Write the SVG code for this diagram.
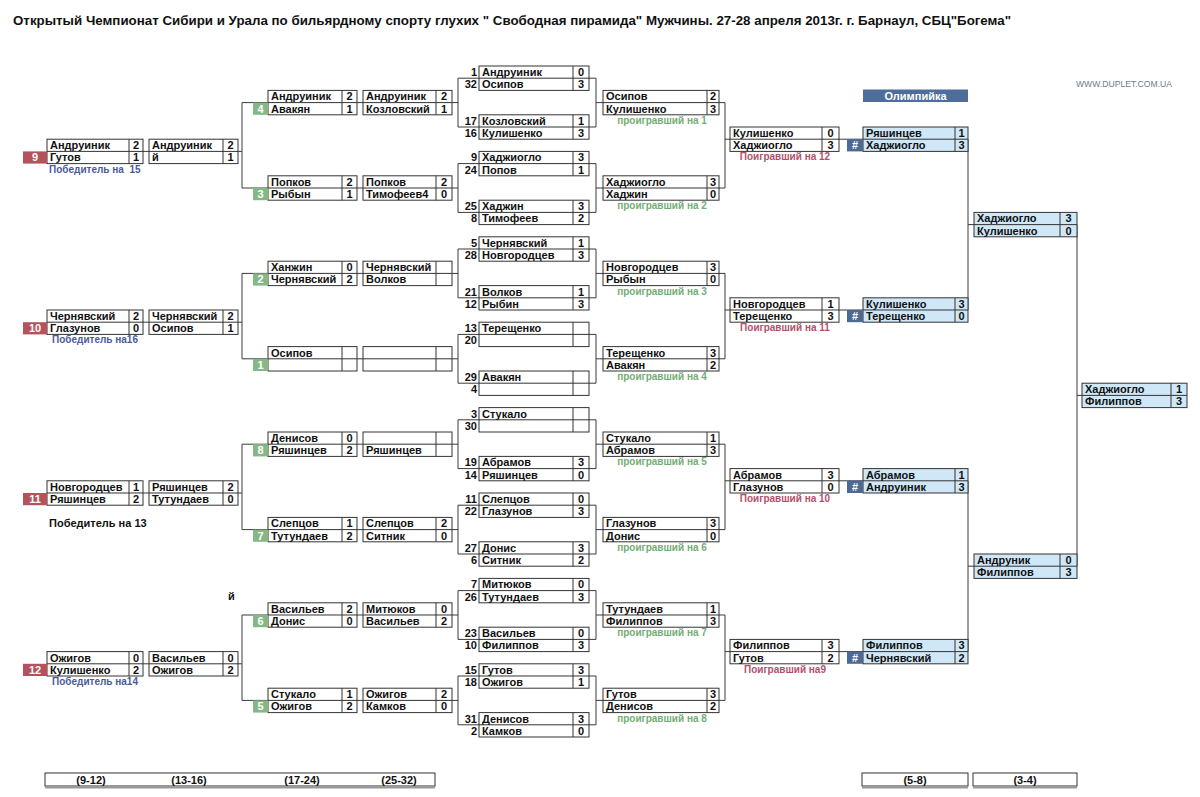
<svg xmlns="http://www.w3.org/2000/svg" width="1200" height="797" viewBox="0 0 1200 797">
<style>
text{font-family:"Liberation Sans",Arial,sans-serif;font-weight:bold;font-size:11px;fill:#111}
.s{text-anchor:middle}
.sd{text-anchor:end}
.w{fill:#fff;text-anchor:middle}
.lg{fill:#74ad74;font-size:10px;text-anchor:middle}
.lr{fill:#b2506c;font-size:10px;text-anchor:middle}
.lb{fill:#4b5a9b;font-size:10px}
.con{fill:none;stroke:#3a3a3a;stroke-width:1}
.red{fill:#b5535d}
.grn{fill:#86b886}
.hash{fill:#4d6a94}
.bar{fill:#fff;stroke:#333;stroke-width:1}
</style>
<defs>
<g id="bA" fill="#fff" stroke="#333" stroke-width="1"><rect width="96" height="24.4"/><path d="M0 12.2H96M82 0V24.4" fill="none"/></g>
<g id="bB" fill="#fff" stroke="#333" stroke-width="1"><rect width="89" height="24.4"/><path d="M0 12.2H89M74 0V24.4" fill="none"/></g>
<g id="bD" fill="#fff" stroke="#333" stroke-width="1"><rect width="89" height="24.4"/><path d="M0 12.2H89M73 0V24.4" fill="none"/></g>
<g id="bE" fill="#fff" stroke="#333" stroke-width="1"><rect width="110" height="24.4"/><path d="M0 12.2H110M94 0V24.4" fill="none"/></g>
<g id="bF" fill="#fff" stroke="#333" stroke-width="1"><rect width="116" height="24.4"/><path d="M0 12.2H116M104 0V24.4" fill="none"/></g>
<g id="bG" fill="#fff" stroke="#333" stroke-width="1"><rect width="109" height="24.4"/><path d="M0 12.2H109M92 0V24.4" fill="none"/></g>
<g id="bH" fill="#cfe7f7" stroke="#333" stroke-width="1"><rect width="105" height="24.4"/><path d="M0 12.2H105M92 0V24.4" fill="none"/></g>
<g id="bI" fill="#cfe7f7" stroke="#333" stroke-width="1"><rect width="103" height="24.4"/><path d="M0 12.2H103M86 0V24.4" fill="none"/></g>
<g id="bJ" fill="#cfe7f7" stroke="#333" stroke-width="1"><rect width="105" height="24.4"/><path d="M0 12.2H105M89 0V24.4" fill="none"/></g>
</defs>
<rect width="1200" height="797" fill="#fff"/>
<text x="13" y="25" font-size="13" textLength="998" lengthAdjust="spacingAndGlyphs" style="font-size:13px">Открытый Чемпионат Сибири и Урала по бильярдному спорту глухих " Свободная пирамида" Мужчины. 27-28 апреля 2013г. г. Барнаул, СБЦ"Богема"</text>
<text x="1076" y="87" textLength="96" lengthAdjust="spacingAndGlyphs" style="font-size:8.5px;font-weight:normal;fill:#6b7b8c">WWW.DUPLET.COM.UA</text>
<g id="olimp"><rect x="863" y="89.5" width="105" height="12.5" fill="#4f6d9a"/><text class="w" x="915.5" y="99.7">Олимпийка</text></g>

<g id="connectors" class="con">
<path d="M143 151.4H242M242 102.6V188M242 102.6H458M242 188H458M458 78.2V127M458 163.6V212.4M458 78.2H596M458 127H596M458 163.6H596M458 212.4H596M596 78.2V127M596 163.6V212.4M596 102.6H725M596 188H725M725 102.6V188M725 139.2H863"/>
<path d="M143 322.2H242M242 273.4V358.8M242 273.4H458M242 358.8H458M458 249V297.8M458 334.4V383.2M458 249H596M458 297.8H596M458 334.4H596M458 383.2H596M596 249V297.8M596 334.4V383.2M596 273.4H725M596 358.8H725M725 273.4V358.8M725 310H863"/>
<path d="M143 493H242M242 444.2V529.6M242 444.2H458M242 529.6H458M458 419.8V468.6M458 505.2V554M458 419.8H596M458 468.6H596M458 505.2H596M458 554H596M596 419.8V468.6M596 505.2V554M596 444.2H725M596 529.6H725M725 444.2V529.6M725 480.8H863"/>
<path d="M143 663.8H242M242 615V700.4M242 615H458M242 700.4H458M458 590.6V639.4M458 676V724.8M458 590.6H596M458 639.4H596M458 676H596M458 724.8H596M596 590.6V639.4M596 676V724.8M596 615H725M596 700.4H725M725 615V700.4M725 651.6H863"/>
<path d="M968 139.2V310M968 224.6H1077M968 480.8V651.6M968 566.2H1077M1077 224.6V566.2M1077 395.4H1082"/>
</g>

<!-- Block 0 -->
<g id="a9"><use href="#bA" x="47" y="139.2"/><rect class="red" x="23" y="151.4" width="24" height="12.2"/><text class="w" x="35" y="161.4">9</text>
<text x="50" y="149.2">Андруиник</text><text class="s" x="136" y="149.2">2</text><text x="50" y="161.4">Гутов</text><text class="s" x="136" y="161.4">1</text>
<text class="lb" x="49" y="172.6" xml:space="preserve">Победитель на  15</text></g>
<g id="b9"><use href="#bB" x="149" y="139.2"/><text x="152" y="149.2">Андруиник</text><text class="s" x="230.5" y="149.2">2</text><text x="152" y="161.4">й</text><text class="s" x="230.5" y="161.4">1</text></g>
<g id="c4"><use href="#bB" x="268" y="90.4"/><rect class="grn" x="253" y="102.6" width="15" height="12.2"/><text class="w" x="260.5" y="112.6">4</text>
<text x="271" y="100.4">Андруиник</text><text class="s" x="349.5" y="100.4">2</text><text x="271" y="112.6">Авакян</text><text class="s" x="349.5" y="112.6">1</text></g>
<g id="d4"><use href="#bD" x="363" y="90.4"/><text x="366" y="100.4">Андруиник</text><text class="s" x="444" y="100.4">2</text><text x="366" y="112.6">Козловский</text><text class="s" x="444" y="112.6">1</text></g>
<g id="c3"><use href="#bB" x="268" y="175.8"/><rect class="grn" x="253" y="188" width="15" height="12.2"/><text class="w" x="260.5" y="198">3</text>
<text x="271" y="185.8">Попков</text><text class="s" x="349.5" y="185.8">2</text><text x="271" y="198">Рыбын</text><text class="s" x="349.5" y="198">1</text></g>
<g id="d3"><use href="#bD" x="363" y="175.8"/><text x="366" y="185.8">Попков</text><text class="s" x="444" y="185.8">2</text><text x="366" y="198">Тимофеев4</text><text class="s" x="444" y="198">0</text></g>
<g id="e1"><use href="#bE" x="479" y="66"/><text class="sd" x="477" y="76">1</text><text x="482" y="76">Андруиник</text><text class="s" x="581" y="76">0</text><text class="sd" x="477" y="88.2">32</text><text x="482" y="88.2">Осипов</text><text class="s" x="581" y="88.2">3</text></g>
<g id="e2"><use href="#bE" x="479" y="114.8"/><text class="sd" x="477" y="124.8">17</text><text x="482" y="124.8">Козловский</text><text class="s" x="581" y="124.8">1</text><text class="sd" x="477" y="137">16</text><text x="482" y="137">Кулишенко</text><text class="s" x="581" y="137">3</text></g>
<g id="e3"><use href="#bE" x="479" y="151.4"/><text class="sd" x="477" y="161.4">9</text><text x="482" y="161.4">Хаджиогло</text><text class="s" x="581" y="161.4">3</text><text class="sd" x="477" y="173.6">24</text><text x="482" y="173.6">Попов</text><text class="s" x="581" y="173.6">1</text></g>
<g id="e4"><use href="#bE" x="479" y="200.2"/><text class="sd" x="477" y="210.2">25</text><text x="482" y="210.2">Хаджин</text><text class="s" x="581" y="210.2">3</text><text class="sd" x="477" y="222.4">8</text><text x="482" y="222.4">Тимофеев</text><text class="s" x="581" y="222.4">2</text></g>
<g id="f1"><use href="#bF" x="603" y="90.4"/><text x="606" y="100.4">Осипов</text><text class="s" x="713" y="100.4">2</text><text x="606" y="112.6">Кулишенко</text><text class="s" x="713" y="112.6">3</text><text class="lg" x="662" y="123.8">проигравший на 1</text></g>
<g id="f2"><use href="#bF" x="603" y="175.8"/><text x="606" y="185.8">Хаджиогло</text><text class="s" x="713" y="185.8">3</text><text x="606" y="198">Хаджин</text><text class="s" x="713" y="198">0</text><text class="lg" x="662" y="209.2">проигравший на 2</text></g>
<g id="g12"><use href="#bG" x="730" y="127"/><text x="733" y="137">Кулишенко</text><text class="s" x="830.5" y="137">0</text><text x="733" y="149.2">Хаджиогло</text><text class="s" x="830.5" y="149.2">3</text><text class="lr" x="785" y="160.4">Поигравший на 12</text></g>
<g id="h1"><use href="#bH" x="863" y="127"/><rect class="hash" x="847" y="139.2" width="16" height="12.2"/><text class="w" x="855" y="149.2">#</text><text x="866" y="137">Ряшинцев</text><text class="s" x="961.5" y="137">1</text><text x="866" y="149.2">Хаджиогло</text><text class="s" x="961.5" y="149.2">3</text></g>

<!-- Block 1 -->
<g id="a10"><use href="#bA" x="47" y="310"/><rect class="red" x="23" y="322.2" width="24" height="12.2"/><text class="w" x="35" y="332.2">10</text>
<text x="50" y="320">Чернявский</text><text class="s" x="136" y="320">2</text><text x="50" y="332.2">Глазунов</text><text class="s" x="136" y="332.2">0</text>
<text class="lb" x="52" y="343.4">Победитель на16</text></g>
<g id="b10"><use href="#bB" x="149" y="310"/><text x="152" y="320">Чернявский</text><text class="s" x="230.5" y="320">2</text><text x="152" y="332.2">Осипов</text><text class="s" x="230.5" y="332.2">1</text></g>
<g id="c2"><use href="#bB" x="268" y="261.2"/><rect class="grn" x="253" y="273.4" width="15" height="12.2"/><text class="w" x="260.5" y="283.4">2</text>
<text x="271" y="271.2">Ханжин</text><text class="s" x="349.5" y="271.2">0</text><text x="271" y="283.4">Чернявский</text><text class="s" x="349.5" y="283.4">2</text></g>
<g id="d2"><use href="#bD" x="363" y="261.2"/><text x="366" y="271.2">Чернявский</text><text x="366" y="283.4">Волков</text></g>
<g id="c1"><use href="#bB" x="268" y="346.6"/><rect class="grn" x="253" y="358.8" width="15" height="12.2"/><text class="w" x="260.5" y="368.8">1</text>
<text x="271" y="356.6">Осипов</text></g>
<g id="d1"><use href="#bD" x="363" y="346.6"/></g>
<g id="e5"><use href="#bE" x="479" y="236.8"/><text class="sd" x="477" y="246.8">5</text><text x="482" y="246.8">Чернявский</text><text class="s" x="581" y="246.8">1</text><text class="sd" x="477" y="259">28</text><text x="482" y="259">Новгородцев</text><text class="s" x="581" y="259">3</text></g>
<g id="e6"><use href="#bE" x="479" y="285.6"/><text class="sd" x="477" y="295.6">21</text><text x="482" y="295.6">Волков</text><text class="s" x="581" y="295.6">1</text><text class="sd" x="477" y="307.8">12</text><text x="482" y="307.8">Рыбин</text><text class="s" x="581" y="307.8">3</text></g>
<g id="e7"><use href="#bE" x="479" y="322.2"/><text class="sd" x="477" y="332.2">13</text><text x="482" y="332.2">Терещенко</text><text class="sd" x="477" y="344.4">20</text></g>
<g id="e8"><use href="#bE" x="479" y="371"/><text class="sd" x="477" y="381">29</text><text x="482" y="381">Авакян</text><text class="sd" x="477" y="393.2">4</text></g>
<g id="f3"><use href="#bF" x="603" y="261.2"/><text x="606" y="271.2">Новгородцев</text><text class="s" x="713" y="271.2">3</text><text x="606" y="283.4">Рыбын</text><text class="s" x="713" y="283.4">0</text><text class="lg" x="662" y="294.6">проигравший на 3</text></g>
<g id="f4"><use href="#bF" x="603" y="346.6"/><text x="606" y="356.6">Терещенко</text><text class="s" x="713" y="356.6">3</text><text x="606" y="368.8">Авакян</text><text class="s" x="713" y="368.8">2</text><text class="lg" x="662" y="380">проигравший на 4</text></g>
<g id="g11"><use href="#bG" x="730" y="297.8"/><text x="733" y="307.8">Новгородцев</text><text class="s" x="830.5" y="307.8">1</text><text x="733" y="320">Терещенко</text><text class="s" x="830.5" y="320">3</text><text class="lr" x="785" y="331.2">Поигравший на 11</text></g>
<g id="h2"><use href="#bH" x="863" y="297.8"/><rect class="hash" x="847" y="310" width="16" height="12.2"/><text class="w" x="855" y="320">#</text><text x="866" y="307.8">Кулишенко</text><text class="s" x="961.5" y="307.8">3</text><text x="866" y="320">Терещенко</text><text class="s" x="961.5" y="320">0</text></g>

<!-- Block 2 -->
<g id="a11"><use href="#bA" x="47" y="480.8"/><rect class="red" x="23" y="493" width="24" height="12.2"/><text class="w" x="35" y="503">11</text>
<text x="50" y="490.8">Новгородцев</text><text class="s" x="136" y="490.8">1</text><text x="50" y="503">Ряшинцев</text><text class="s" x="136" y="503">2</text>
<text x="49" y="527">Победитель на 13</text></g>
<g id="b11"><use href="#bB" x="149" y="480.8"/><text x="152" y="490.8">Ряшинцев</text><text class="s" x="230.5" y="490.8">2</text><text x="152" y="503">Тутундаев</text><text class="s" x="230.5" y="503">0</text></g>
<g id="c8"><use href="#bB" x="268" y="432"/><rect class="grn" x="253" y="444.2" width="15" height="12.2"/><text class="w" x="260.5" y="454.2">8</text>
<text x="271" y="442">Денисов</text><text class="s" x="349.5" y="442">0</text><text x="271" y="454.2">Ряшинцев</text><text class="s" x="349.5" y="454.2">2</text></g>
<g id="d8"><use href="#bD" x="363" y="432"/><text x="366" y="454.2">Ряшинцев</text></g>
<g id="c7"><use href="#bB" x="268" y="517.4"/><rect class="grn" x="253" y="529.6" width="15" height="12.2"/><text class="w" x="260.5" y="539.6">7</text>
<text x="271" y="527.4">Слепцов</text><text class="s" x="349.5" y="527.4">1</text><text x="271" y="539.6">Тутундаев</text><text class="s" x="349.5" y="539.6">2</text></g>
<g id="d7"><use href="#bD" x="363" y="517.4"/><text x="366" y="527.4">Слепцов</text><text class="s" x="444" y="527.4">2</text><text x="366" y="539.6">Ситник</text><text class="s" x="444" y="539.6">0</text></g>
<g id="e9"><use href="#bE" x="479" y="407.6"/><text class="sd" x="477" y="417.6">3</text><text x="482" y="417.6">Стукало</text><text class="sd" x="477" y="429.8">30</text></g>
<g id="e10"><use href="#bE" x="479" y="456.4"/><text class="sd" x="477" y="466.4">19</text><text x="482" y="466.4">Абрамов</text><text class="s" x="581" y="466.4">3</text><text class="sd" x="477" y="478.6">14</text><text x="482" y="478.6">Ряшинцев</text><text class="s" x="581" y="478.6">0</text></g>
<g id="e11"><use href="#bE" x="479" y="493"/><text class="sd" x="477" y="503">11</text><text x="482" y="503">Слепцов</text><text class="s" x="581" y="503">0</text><text class="sd" x="477" y="515.2">22</text><text x="482" y="515.2">Глазунов</text><text class="s" x="581" y="515.2">3</text></g>
<g id="e12"><use href="#bE" x="479" y="541.8"/><text class="sd" x="477" y="551.8">27</text><text x="482" y="551.8">Донис</text><text class="s" x="581" y="551.8">3</text><text class="sd" x="477" y="564">6</text><text x="482" y="564">Ситник</text><text class="s" x="581" y="564">2</text></g>
<g id="f5"><use href="#bF" x="603" y="432"/><text x="606" y="442">Стукало</text><text class="s" x="713" y="442">1</text><text x="606" y="454.2">Абрамов</text><text class="s" x="713" y="454.2">3</text><text class="lg" x="662" y="465.4">проигравший на 5</text></g>
<g id="f6"><use href="#bF" x="603" y="517.4"/><text x="606" y="527.4">Глазунов</text><text class="s" x="713" y="527.4">3</text><text x="606" y="539.6">Донис</text><text class="s" x="713" y="539.6">0</text><text class="lg" x="662" y="550.8">проигравший на 6</text></g>
<g id="g10"><use href="#bG" x="730" y="468.6"/><text x="733" y="478.6">Абрамов</text><text class="s" x="830.5" y="478.6">3</text><text x="733" y="490.8">Глазунов</text><text class="s" x="830.5" y="490.8">0</text><text class="lr" x="785" y="502">Поигравший на 10</text></g>
<g id="h3"><use href="#bH" x="863" y="468.6"/><rect class="hash" x="847" y="480.8" width="16" height="12.2"/><text class="w" x="855" y="490.8">#</text><text x="866" y="478.6">Абрамов</text><text class="s" x="961.5" y="478.6">1</text><text x="866" y="490.8">Андруиник</text><text class="s" x="961.5" y="490.8">3</text></g>

<!-- Block 3 -->
<text x="228" y="600">й</text>
<g id="a12"><use href="#bA" x="47" y="651.6"/><rect class="red" x="23" y="663.8" width="24" height="12.2"/><text class="w" x="35" y="673.8">12</text>
<text x="50" y="661.6">Ожигов</text><text class="s" x="136" y="661.6">0</text><text x="50" y="673.8">Кулишенко</text><text class="s" x="136" y="673.8">2</text>
<text class="lb" x="52" y="685">Победитель на14</text></g>
<g id="b12"><use href="#bB" x="149" y="651.6"/><text x="152" y="661.6">Васильев</text><text class="s" x="230.5" y="661.6">0</text><text x="152" y="673.8">Ожигов</text><text class="s" x="230.5" y="673.8">2</text></g>
<g id="c6"><use href="#bB" x="268" y="602.8"/><rect class="grn" x="253" y="615" width="15" height="12.2"/><text class="w" x="260.5" y="625">6</text>
<text x="271" y="612.8">Васильев</text><text class="s" x="349.5" y="612.8">2</text><text x="271" y="625">Донис</text><text class="s" x="349.5" y="625">0</text></g>
<g id="d6"><use href="#bD" x="363" y="602.8"/><text x="366" y="612.8">Митюков</text><text class="s" x="444" y="612.8">0</text><text x="366" y="625">Васильев</text><text class="s" x="444" y="625">2</text></g>
<g id="c5"><use href="#bB" x="268" y="688.2"/><rect class="grn" x="253" y="700.4" width="15" height="12.2"/><text class="w" x="260.5" y="710.4">5</text>
<text x="271" y="698.2">Стукало</text><text class="s" x="349.5" y="698.2">1</text><text x="271" y="710.4">Ожигов</text><text class="s" x="349.5" y="710.4">2</text></g>
<g id="d5"><use href="#bD" x="363" y="688.2"/><text x="366" y="698.2">Ожигов</text><text class="s" x="444" y="698.2">2</text><text x="366" y="710.4">Камков</text><text class="s" x="444" y="710.4">0</text></g>
<g id="e13"><use href="#bE" x="479" y="578.4"/><text class="sd" x="477" y="588.4">7</text><text x="482" y="588.4">Митюков</text><text class="s" x="581" y="588.4">0</text><text class="sd" x="477" y="600.6">26</text><text x="482" y="600.6">Тутундаев</text><text class="s" x="581" y="600.6">3</text></g>
<g id="e14"><use href="#bE" x="479" y="627.2"/><text class="sd" x="477" y="637.2">23</text><text x="482" y="637.2">Васильев</text><text class="s" x="581" y="637.2">0</text><text class="sd" x="477" y="649.4">10</text><text x="482" y="649.4">Филиппов</text><text class="s" x="581" y="649.4">3</text></g>
<g id="e15"><use href="#bE" x="479" y="663.8"/><text class="sd" x="477" y="673.8">15</text><text x="482" y="673.8">Гутов</text><text class="s" x="581" y="673.8">3</text><text class="sd" x="477" y="686">18</text><text x="482" y="686">Ожигов</text><text class="s" x="581" y="686">1</text></g>
<g id="e16"><use href="#bE" x="479" y="712.6"/><text class="sd" x="477" y="722.6">31</text><text x="482" y="722.6">Денисов</text><text class="s" x="581" y="722.6">3</text><text class="sd" x="477" y="734.8">2</text><text x="482" y="734.8">Камков</text><text class="s" x="581" y="734.8">0</text></g>
<g id="f7"><use href="#bF" x="603" y="602.8"/><text x="606" y="612.8">Тутундаев</text><text class="s" x="713" y="612.8">1</text><text x="606" y="625">Филиппов</text><text class="s" x="713" y="625">3</text><text class="lg" x="662" y="636.2">проигравший на 7</text></g>
<g id="f8"><use href="#bF" x="603" y="688.2"/><text x="606" y="698.2">Гутов</text><text class="s" x="713" y="698.2">3</text><text x="606" y="710.4">Денисов</text><text class="s" x="713" y="710.4">2</text><text class="lg" x="662" y="721.6">проигравший на 8</text></g>
<g id="g9"><use href="#bG" x="730" y="639.4"/><text x="733" y="649.4">Филиппов</text><text class="s" x="830.5" y="649.4">3</text><text x="733" y="661.6">Гутов</text><text class="s" x="830.5" y="661.6">2</text><text class="lr" x="785" y="672.8">Поигравший на9</text></g>
<g id="h4"><use href="#bH" x="863" y="639.4"/><rect class="hash" x="847" y="651.6" width="16" height="12.2"/><text class="w" x="855" y="661.6">#</text><text x="866" y="649.4">Филиппов</text><text class="s" x="961.5" y="649.4">3</text><text x="866" y="661.6">Чернявский</text><text class="s" x="961.5" y="661.6">2</text></g>

<!-- Semis and final -->
<g id="i1"><use href="#bI" x="974" y="212.4"/><text x="977" y="222.4">Хаджиогло</text><text class="s" x="1068.5" y="222.4">3</text><text x="977" y="234.6">Кулишенко</text><text class="s" x="1068.5" y="234.6">0</text></g>
<g id="i2"><use href="#bI" x="974" y="554"/><text x="977" y="564">Андруник</text><text class="s" x="1068.5" y="564">0</text><text x="977" y="576.2">Филиппов</text><text class="s" x="1068.5" y="576.2">3</text></g>
<g id="j1"><use href="#bJ" x="1082" y="383.2"/><text x="1085" y="393.2">Хаджиогло</text><text class="s" x="1179" y="393.2">1</text><text x="1085" y="405.4">Филиппов</text><text class="s" x="1179" y="405.4">3</text></g>

<!-- Bottom bars -->
<g id="bottom-left"><rect class="bar" x="45" y="773" width="390" height="13"/><path d="M45 787.5H435" stroke="#999" stroke-width="2"/>
<text class="s" x="91" y="784">(9-12)</text><text class="s" x="189" y="784">(13-16)</text><text class="s" x="302" y="784">(17-24)</text><text class="s" x="399" y="784">(25-32)</text></g>
<g id="bottom-58"><rect class="bar" x="862" y="773" width="106" height="13"/><path d="M862 787.5H968" stroke="#999" stroke-width="2"/><text class="s" x="915" y="784">(5-8)</text></g>
<g id="bottom-34"><rect class="bar" x="973" y="773" width="104" height="13"/><path d="M973 787.5H1077" stroke="#999" stroke-width="2"/><text class="s" x="1025" y="784">(3-4)</text></g>
</svg>
